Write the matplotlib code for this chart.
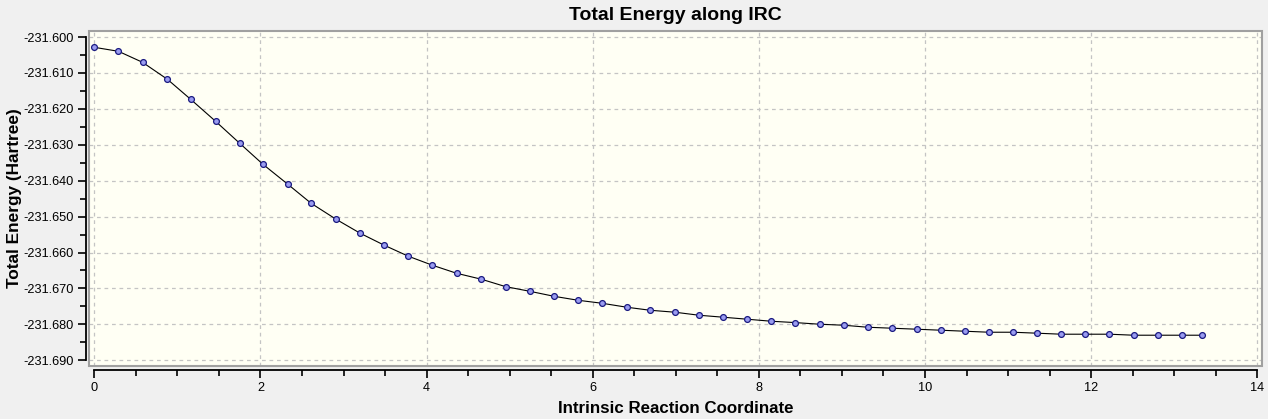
import matplotlib
matplotlib.use("Agg")
import matplotlib.pyplot as plt
from matplotlib.patches import Rectangle
from matplotlib.ticker import MultipleLocator, FormatStrFormatter

plt.rcParams['font.family'] = ['Liberation Sans', 'DejaVu Sans']

# IRC points
irc = [0.00, 0.29, 0.58, 0.88, 1.16, 1.46, 1.75, 2.03, 2.33, 2.61,
       2.91, 3.20, 3.49, 3.78, 4.07, 4.36, 4.66, 4.95, 5.24, 5.53,
       5.82, 6.11, 6.41, 6.69, 6.99, 7.28, 7.57, 7.86, 8.15, 8.44,
       8.73, 9.02, 9.31, 9.60, 9.90, 10.19, 10.48, 10.77, 11.06, 11.35,
       11.64, 11.93, 12.22, 12.51, 12.80, 13.09, 13.34]
energy = [-231.60287, -231.60398, -231.60704, -231.61178, -231.61735,
          -231.62347, -231.62959, -231.63544, -231.64101, -231.64630,
          -231.65074, -231.65463, -231.65797, -231.66103, -231.66354,
          -231.66577, -231.66744, -231.66949, -231.67078, -231.67217,
          -231.67328, -231.67412, -231.67523, -231.67607, -231.67662,
          -231.67746, -231.67801, -231.67857, -231.67913, -231.67951,
          -231.67996, -231.68024, -231.68080, -231.68107, -231.68135,
          -231.68163, -231.68191, -231.68219, -231.68219, -231.68246,
          -231.68274, -231.68274, -231.68274, -231.68302, -231.68302,
          -231.68302, -231.68302]

title = "Total Energy along IRC"
xlabel = "Intrinsic Reaction Coordinate"
ylabel = "Total Energy (Hartree)"

fig = plt.figure(figsize=(12.68, 4.19), dpi=100)
fig.patch.set_facecolor('#f0f0f0')
ax = fig.add_axes([0.0702, 0.1265, 0.9251, 0.7995])
ax.set_facecolor('#fffff4')

ax.plot(irc, energy, color='black', lw=0.8, marker='o', ms=4.2,
        mfc='#9a9cf0', mec='#1a1a80', mew=0.9, zorder=3)

ax.set_xlim(-0.064, 14.057)
ax.set_ylim(-231.69159, -231.59833)

ax.xaxis.set_major_locator(MultipleLocator(2))
ax.xaxis.set_minor_locator(MultipleLocator(0.5))
ax.yaxis.set_major_locator(MultipleLocator(0.01))
ax.yaxis.set_minor_locator(MultipleLocator(0.005))
ax.yaxis.set_major_formatter(FormatStrFormatter('%.3f'))

ax.grid(True, which='major', color='#c4c4c4', linestyle=(0, (3, 3)), lw=0.9)
ax.set_axisbelow(True)

for s in ['top', 'right']:
    ax.spines[s].set_visible(False)
ax.spines['left'].set_position(('outward', 2.3))
ax.spines['bottom'].set_position(('outward', 2.6))
ax.spines['left'].set_bounds(-231.690, -231.600)
ax.spines['bottom'].set_bounds(0, 14)
for s in ['left', 'bottom']:
    ax.spines[s].set_linewidth(1.3)
    ax.spines[s].set_color('black')

# gray frame round the plot area
ax.add_patch(Rectangle((0, 0), 1, 1, transform=ax.transAxes, fill=False,
                       edgecolor='#a0a0a0', lw=1.5, clip_on=False, zorder=5))

ax.tick_params(which='major', length=6, width=1.2, labelsize=9.2, pad=3)
ax.tick_params(which='minor', length=4, width=1.2)

ax.set_title(title, fontsize=14, fontweight='bold', pad=8)
ax.set_xlabel(xlabel, fontsize=12.2, fontweight='bold', labelpad=5)
ax.set_ylabel(ylabel, fontsize=12.4, fontweight='bold', labelpad=1)

fig.savefig("out.png", dpi=100, facecolor=fig.get_facecolor())
